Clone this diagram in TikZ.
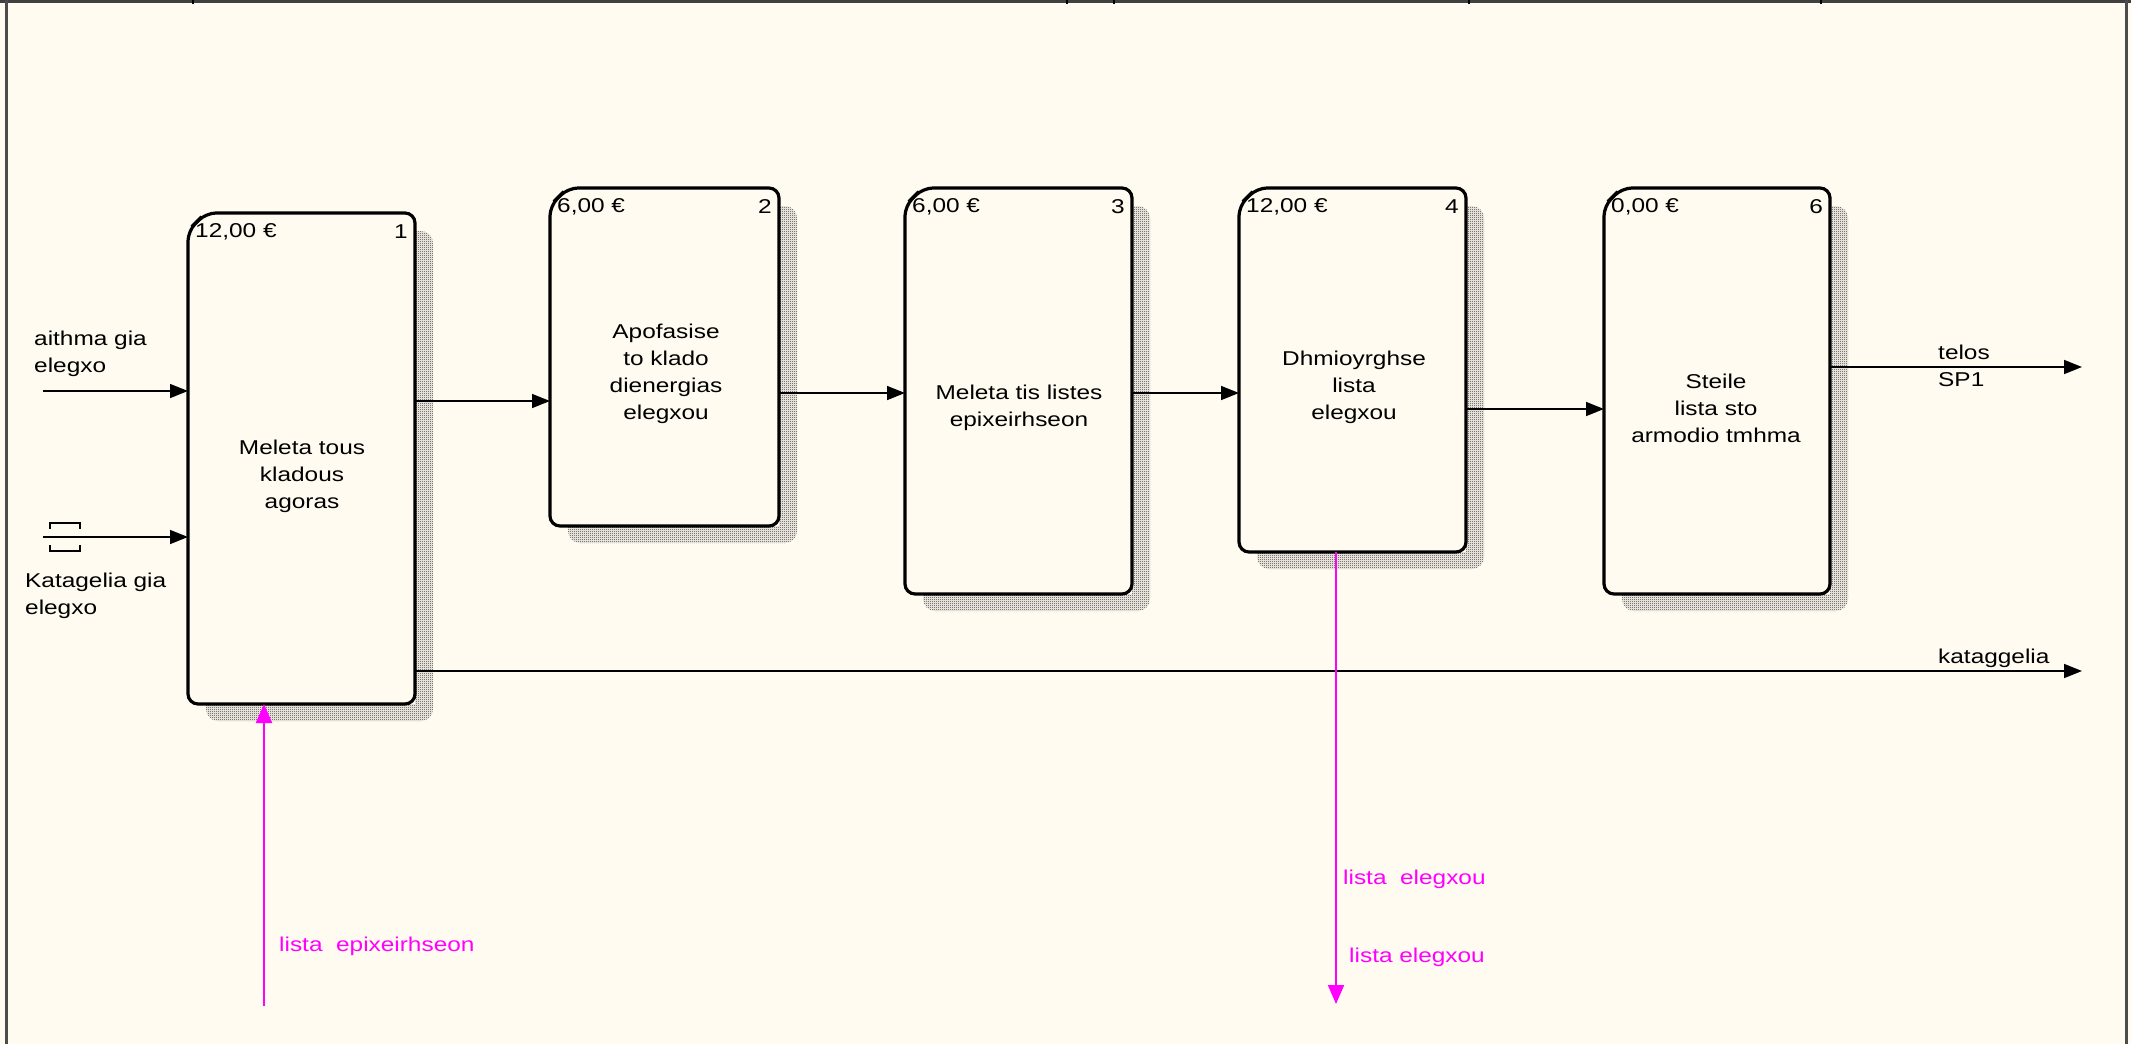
\documentclass[tikz,border=0pt]{standalone}
\usepackage{fontspec}
\setmainfont[FakeStretch=1.22]{Liberation Sans}
\usetikzlibrary{patterns,arrows.meta,calc}
\definecolor{bg}{RGB}{255,251,240}
\definecolor{mag}{RGB}{255,0,255}
\pgfdeclarepatternformonly{idefdots}{\pgfqpoint{0pt}{0pt}}{\pgfqpoint{2pt}{2pt}}{\pgfqpoint{2pt}{2pt}}{%
  \pgfpathrectangle{\pgfqpoint{0pt}{0pt}}{\pgfqpoint{1pt}{1pt}}%
  \pgfpathrectangle{\pgfqpoint{1pt}{1pt}}{\pgfqpoint{1pt}{1pt}}%
  \pgfusepath{fill}}
\newcommand\idefbox[8]{%
  % #1 name, #2 x1, #3 y1, #4 x2, #5 y2, #6 cost, #7 number, #8 text
  \fill[shadowfill, rounded corners=12pt] ({#2+18},{#3+18}) rectangle ({#4+18},{#5+17});
  \node[boxnode, minimum width={#4-#2}, minimum height={#5-#3}] (#1) at ({(#2+#4)/2},{(#3+#5)/2}) {};
  \draw[boxline, rounded corners=10pt] ($(#1.north west)+(0,18)$) -- ($(#1.north west)+(18,0)$) -- (#1.north east) -- (#1.south east) -- (#1.south west) -- cycle;
  \draw[line width=1.4pt] ($(#1.north west)+(3,13)$) -- ($(#1.north west)+(13,3)$);
  \node[anchor=west, inner sep=0pt] (#1c) at ({#2+7},{#3+19}) {#6};
  \node[anchor=east, inner sep=0pt] (#1n) at ({#4-7},{#3+19}) {#7};
}
\begin{document}
\begin{tikzpicture}[x=1pt,y=-1pt,
  font=\fontsize{20}{27}\selectfont,
  shadowfill/.style={pattern=idefdots, pattern color=black!80},
  boxnode/.style={rectangle, fill=bg, draw=none, inner sep=0pt, outer sep=0pt},
  boxline/.style={line width=3.2pt, line join=round},
  boxtext/.style={align=center, inner sep=0pt},
  lbl/.style={align=left, inner sep=0pt, anchor=west},
  conn/.style={line width=1.5pt, -{Triangle[length=18pt,width=14pt]}},
  mconn/.style={line width=2pt, draw=mag, -{Triangle[length=19pt,width=16pt]}},
  mlbl/.style={text=mag, inner sep=0pt, anchor=west}]
\useasboundingbox (0,0) rectangle (2131,1044);
\fill[bg] (0,0) rectangle (2131,1044);
% frame
\fill[black!75] (0,0) rectangle (2131,3);
\foreach \xx in {193,1067,1114,1469,1821} \draw[line width=1.2pt] (\xx,0) -- (\xx,4);
\fill[black!70] (5,0) rectangle (7.5,1044);
\fill[black!70] (2125,0) rectangle (2128,1044);

% boxes
\idefbox{b1}{188}{213}{415}{704}{12,00 €}{1}{}
\idefbox{b2}{550}{188}{779}{526}{6,00 €}{2}{}
\idefbox{b3}{905}{188}{1132}{594}{6,00 €}{3}{}
\idefbox{b4}{1239}{188}{1466}{552}{12,00 €}{4}{}
\idefbox{b6}{1604}{188}{1830}{594}{0,00 €}{6}{}

\node[boxtext] (t1) at (302,476) {Meleta tous\\kladous\\agoras};
\node[boxtext] (t2) at (666,374) {Apofasise\\to klado\\dienergias\\elegxou};
\node[boxtext] (t3) at (1019,408) {Meleta tis listes\\epixeirhseon};
\node[boxtext] (t4) at (1354,387) {Dhmioyrghse\\lista\\elegxou};
\node[boxtext] (t6) at (1716,408) {Steile\\lista sto\\armodio tmhma};

% helper levels
\coordinate (in1) at (43,391);
\coordinate (in2) at (43,537);
\coordinate (r12) at (0,401);
\coordinate (r23) at (0,393);
\coordinate (r34) at (0,393);
\coordinate (r46) at (0,409);
\coordinate (o1) at (2082,367);
\coordinate (o2) at (2082,671);
\coordinate (m1) at (264,1006);
\coordinate (m2) at (1336,1004);

% connectors
\draw[conn] (in1) -- (in1 -| b1.west);
\draw[conn] (in2) -- (in2 -| b1.west);
\draw[conn] (b1.east |- r12) -- (b2.west |- r12);
\draw[conn] (b2.east |- r23) -- (b3.west |- r23);
\draw[conn] (b3.east |- r34) -- (b4.west |- r34);
\draw[conn] (b4.east |- r46) -- (b6.west |- r46);
\draw[conn] (b6.east |- o1) -- (o1);
\draw[conn] (b1.east |- o2) -- (o2);
\draw[mconn] (m1) -- (m1 |- b1.south);
\draw[mconn] (m2 |- b4.south) -- (m2);

% tunnel symbol
\draw[line width=1.5pt] (50,529) -- (50,523) -- (80,523) -- (80,529);
\draw[line width=1.5pt] (50,545) -- (50,551) -- (80,551) -- (80,545);

% labels
\node[lbl] (l1) at (34,354) {aithma gia\\elegxo};
\node[lbl] (l2) at (25,596) {Katagelia gia\\elegxo};
\node[lbl] (l3) at (1938,366) {telos\\SP1};
\node[lbl] (l4) at (1938,658) {kataggelia};
\node[mlbl] (l5) at (279,946) {lista\ \ epixeirhseon};
\node[mlbl] (l6) at (1343,879) {lista\ \ elegxou};
\node[mlbl] (l7) at (1349,957) {lista elegxou};
\end{tikzpicture}
\end{document}
